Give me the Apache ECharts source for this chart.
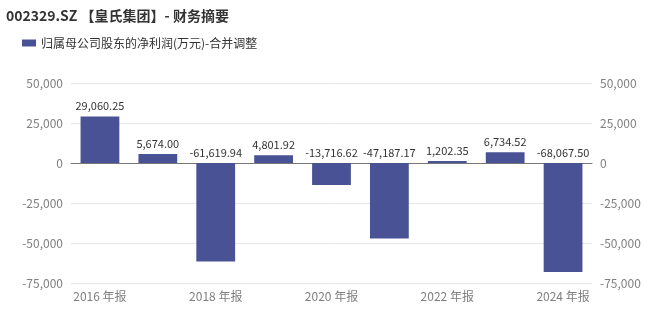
<!DOCTYPE html>
<html><head><meta charset="utf-8">
<script src="https://cdn.jsdelivr.net/npm/echarts@6/dist/echarts.min.js"></script>
<style>html,body{margin:0;padding:0;background:#fff}#c{width:650px;height:309px}</style>
</head><body><div id="c"></div>
<script>
const categories = ['2016 年报','2017 年报','2018 年报','2019 年报','2020 年报','2021 年报','2022 年报','2023 年报','2024 年报'];
const values = [29060.25, 5674.00, -61619.94, 4801.92, -13716.62, -47187.17, 1202.35, 6734.52, -68067.50];
const seriesName = '归属母公司股东的净利润(万元)-合并调整';
const titleText = '002329.SZ 【皇氏集团】- 财务摘要';
const fmt = v => v.toLocaleString('en-US');
const fmt2 = v => v.toLocaleString('en-US',{minimumFractionDigits:2,maximumFractionDigits:2});
const font = '"Microsoft YaHei","Noto Sans CJK SC","Noto Sans",sans-serif';
const yAxisCommon = {
  type:'value', min:-75000, max:50000, interval:25000,
  axisLabel:{formatter:fmt, color:'#7f7f7f', fontSize:12, fontFamily:font},
  splitLine:{lineStyle:{color:'#e6e6e6'}},
  axisLine:{show:false}, axisTick:{show:false}
};
const chart = echarts.init(document.getElementById('c'));
chart.setOption({
  animation:false,
  textStyle:{fontFamily:font},
  title:{text:titleText,left:1,top:4,textStyle:{fontSize:14,fontWeight:'bold',color:'#333',fontFamily:font}},
  legend:{left:17,top:32,itemWidth:14,itemHeight:7,itemGap:6,icon:'rect',
    textStyle:{fontSize:12,color:'#333',fontFamily:font}},
  grid:{left:71,right:58,top:83,bottom:26},
  xAxis:{type:'category',data:categories,
    axisLine:{onZero:true,lineStyle:{color:'#777'}},axisTick:{show:false},
    axisLabel:{interval:1,color:'#7f7f7f',fontSize:12,fontFamily:font,margin:7},
    position:'bottom'},
  yAxis:[Object.assign({position:'left'},yAxisCommon),Object.assign({position:'right'},yAxisCommon)],
  series:[{name:seriesName,type:'bar',data:values,barWidth:'67%',
    itemStyle:{color:'#4a5296'},
    label:{show:true,position:'top',formatter:p=>fmt2(p.value),color:'#333',fontSize:11,fontFamily:font}
  }]
});
</script></body></html>
